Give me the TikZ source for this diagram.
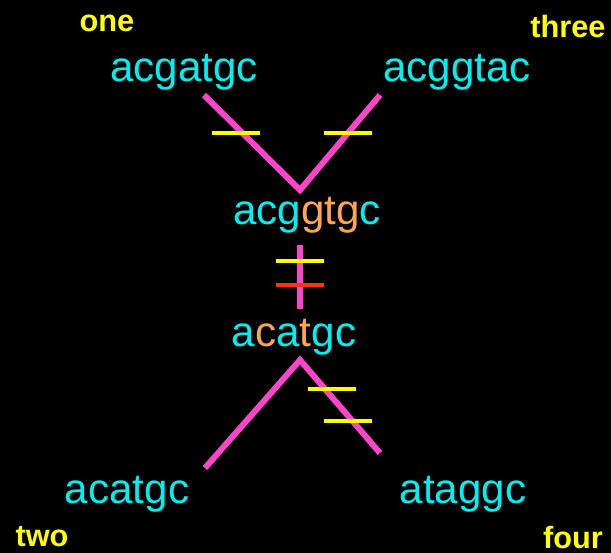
\documentclass[tikz,border=0pt]{standalone}
\usepackage{fontspec}
\setmainfont{Liberation Sans}
\usepackage{xcolor}
\usepackage{tikz}
\definecolor{seqcyan}{HTML}{00F0F0}
\definecolor{seqorange}{HTML}{FFA64D}
\definecolor{branchpink}{HTML}{FF44CC}
\definecolor{tickyellow}{HTML}{FFFF00}
\definecolor{tickred}{HTML}{FF3311}

\begin{document}
\begin{tikzpicture}[x=0.02cm,y=-0.02cm,
    seq/.style={text=seqcyan,font=\fontsize{24}{28}\selectfont,anchor=base,inner sep=0pt},
    lbl/.style={text=tickyellow,font=\fontsize{17.5}{20}\selectfont\bfseries,anchor=base,inner sep=0pt},
    branch/.style={draw=branchpink,line width=3.4pt},
    tick/.style={draw=tickyellow,line width=2.2pt}]
      \fill[black] (0,0) rectangle (611,553);
      \useasboundingbox (0,0) rectangle (611,553);
      \node[lbl] (one) at (107,32) {one};
      \node[lbl] (three) at (568,38) {three};
      \node[lbl] (two) at (42,546) {two};
      \node[lbl] (four) at (573,548) {four};
      \node[seq] (sOne) at (184,82) {acgatgc};
      \node[seq] (sThree) at (457,82) {acggtac};
      \node[seq] (sUp) at (307,225) {acg\textcolor{seqorange}{gtg}c};
      \node[seq] (sLow) at (294,347) {a\textcolor{seqorange}{c}a\textcolor{seqorange}{t}gc};
      \node[seq] (sTwo) at (127,503) {acatgc};
      \node[seq] (sFour) at (463,503) {ataggc};
      \coordinate (endOne) at (204,95);
      \coordinate (endThree) at (380,95);
      \coordinate (apexUp) at (300,190);
      \coordinate (midTop) at (300,245);
      \coordinate (midBot) at (300,309);
      \coordinate (apexLow) at (300,360);
      \coordinate (endTwo) at (205,468);
      \coordinate (endFour) at (380,453);
      \draw[branch] (endOne) -- (apexUp) -- (endThree);
      \draw[branch] (midTop) -- (midBot);
      \draw[branch] (endTwo) -- (apexLow) -- (endFour);
      \draw[tick] (212,133) -- (260,133);
      \draw[tick] (324,133) -- (372,133);
      \draw[tick] (276,261) -- (324,261);
      \draw[tick,draw=tickred] (276,285) -- (324,285);
      \draw[tick] (308,389) -- (356,389);
      \draw[tick] (324,421) -- (372,421);
    \end{tikzpicture}
\end{document}
